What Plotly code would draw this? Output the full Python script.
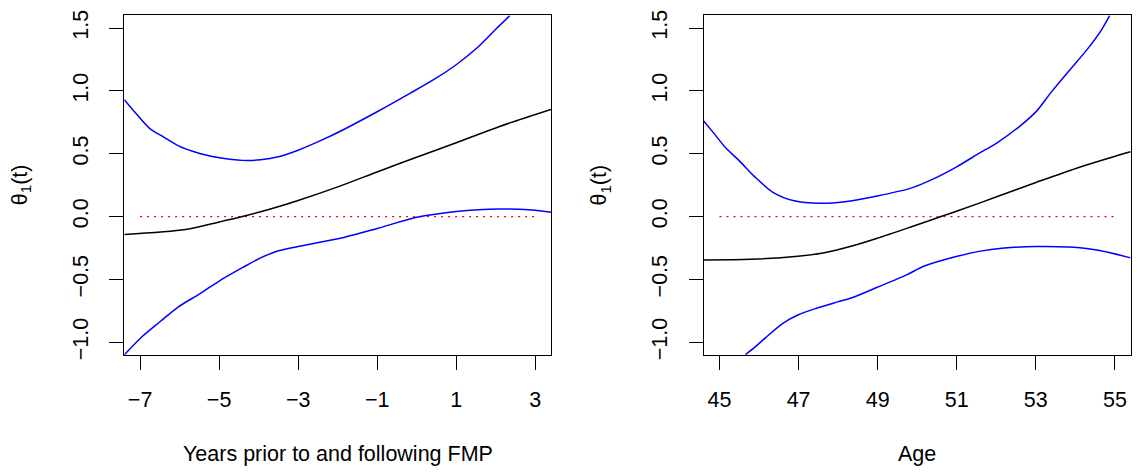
import plotly.graph_objects as go

# ---- Left panel: years relative to FMP ----
years_x = [-7.4, -7.12, -6.76, -6.40, -6.03, -5.49, -4.99, -4.41, -3.95, -3.50, -3.0,
           -2.42, -1.87, -1.0, -0.16, 0.48, 1.0, 1.56, 2.02, 2.36]
years_upper = [0.93, 0.826, 0.702, 0.632, 0.562, 0.502, 0.468, 0.447, 0.452, 0.476, 0.528,
               0.606, 0.689, 0.834, 0.982, 1.099, 1.208, 1.351, 1.496, 1.60]

years_est_x = [-7.4, -5.85, -4.99, -4.41, -3.68, -3.0, -1.96, -1.0, 0.03, 1.0, 2.1, 3.4]
years_est = [-0.142, -0.103, -0.043, 0.0, 0.062, 0.128, 0.24, 0.355, 0.476, 0.587, 0.717, 0.852]

years_lo_x = [-7.4, -6.94, -6.49, -6.03, -5.49, -4.99, -4.41, -3.95, -3.50, -3.0, -2.42,
              -1.87, -1.0, 0.03, 1.0, 1.56, 2.1, 2.83, 3.4]
years_lower = [-1.10, -0.952, -0.835, -0.718, -0.615, -0.511, -0.407, -0.329, -0.272, -0.238,
               -0.202, -0.168, -0.095, -0.004, 0.040, 0.055, 0.06, 0.055, 0.035]

years_ref_x = [-7, 3]
years_ticks = [-7, -5, -3, -1, 1, 3]

# ---- Right panel: age ----
age_up_x = [44.6, 44.87, 45.15, 45.52, 45.88, 46.34, 46.89, 47.53, 48.17, 48.99, 49.82,
            50.37, 51.01, 51.56, 52.01, 52.56, 53.02, 53.39, 53.84, 54.30, 54.67, 54.87]
age_upper = [0.761, 0.658, 0.549, 0.437, 0.320, 0.195, 0.125, 0.105, 0.118, 0.164, 0.224,
             0.294, 0.398, 0.502, 0.585, 0.710, 0.839, 0.99, 1.16, 1.33, 1.49, 1.60]

age_est_x = [44.6, 45.79, 46.98, 47.62, 48.35, 48.99, 49.91, 50.73, 51.01, 52.01, 53.02,
             54.03, 55.01, 55.4]
age_est = [-0.345, -0.34, -0.316, -0.290, -0.235, -0.173, -0.075, 0.014, 0.044, 0.157,
           0.273, 0.385, 0.48, 0.515]

age_lo_x = [45.65, 45.88, 46.16, 46.61, 46.98, 47.44, 47.99, 48.35, 48.99, 49.73, 50.18,
            51.01, 51.56, 52.20, 53.02, 53.84, 54.58, 55.4]
age_lower = [-1.10, -1.043, -0.965, -0.848, -0.783, -0.731, -0.679, -0.646, -0.563, -0.464,
             -0.394, -0.316, -0.277, -0.251, -0.238, -0.243, -0.269, -0.329]

age_ref_x = [45, 55]
age_ticks = [45, 47, 49, 51, 53, 55]

y_ticks = [-1.0, -0.5, 0.0, 0.5, 1.0, 1.5]

W, H = 1137, 476
FONT = "Liberation Sans, Arial, sans-serif"
FS = 21.5
BLUE = "#0000FF"

fig = go.Figure()


def add_panel(xa, ya, ux, uy, ex, ey, lx, ly, rx):
    fig.add_trace(go.Scatter(x=rx, y=[0, 0], mode="lines", xaxis=xa, yaxis=ya,
                             line=dict(color="#FF0000", width=1.3, dash="2px,5px"),
                             showlegend=False, hoverinfo="skip"))
    fig.add_trace(go.Scatter(x=ux, y=uy, mode="lines", xaxis=xa, yaxis=ya,
                             line=dict(color=BLUE, width=1.5, shape="spline", smoothing=0.8),
                             showlegend=False))
    fig.add_trace(go.Scatter(x=ex, y=ey, mode="lines", xaxis=xa, yaxis=ya,
                             line=dict(color="black", width=1.5, shape="spline", smoothing=0.8),
                             showlegend=False))
    fig.add_trace(go.Scatter(x=lx, y=ly, mode="lines", xaxis=xa, yaxis=ya,
                             line=dict(color=BLUE, width=1.5, shape="spline", smoothing=0.8),
                             showlegend=False))


add_panel("x", "y", years_x, years_upper, years_est_x, years_est, years_lo_x, years_lower, years_ref_x)
add_panel("x2", "y2", age_up_x, age_upper, age_est_x, age_est, age_lo_x, age_lower, age_ref_x)

L1, R1 = 124.3, 551.0
L2, R2 = 703.7, 1130.7
T, B = 10.7, 357.3

axis_common = dict(showline=True, mirror=True, linecolor="black", linewidth=1,
                   ticks="outside", ticklen=14, tickwidth=1, tickcolor="black",
                   showgrid=False, zeroline=False,
                   tickfont=dict(family=FONT, size=FS, color="black"))

fig.update_layout(
    width=W, height=H,
    margin=dict(l=0, r=0, t=0, b=0),
    paper_bgcolor="white", plot_bgcolor="white",
    font=dict(family=FONT, size=FS, color="black"),
    xaxis=dict(domain=[L1 / W, R1 / W], range=[-7.4, 3.4], tickvals=years_ticks,
               anchor="y", ticklabelstandoff=11, **axis_common),
    yaxis=dict(domain=[1 - B / H, 1 - T / H], range=[-1.1, 1.6], tickvals=y_ticks,
               tickformat=".1f", tickangle=-90, anchor="x", ticklabelstandoff=13, **axis_common),
    xaxis2=dict(domain=[L2 / W, R2 / W], range=[44.6, 55.4], tickvals=age_ticks,
                anchor="y2", ticklabelstandoff=11, **axis_common),
    yaxis2=dict(domain=[1 - B / H, 1 - T / H], range=[-1.1, 1.6], tickvals=y_ticks,
                tickformat=".1f", tickangle=-90, anchor="x2", ticklabelstandoff=13, **axis_common),
    annotations=[
        dict(text="Years prior to and following FMP", xref="paper", yref="paper",
             x=(L1 + R1) / 2 / W, y=1 - 459 / H, xanchor="center", yanchor="middle",
             showarrow=False, font=dict(family=FONT, size=FS)),
        dict(text="Age", xref="paper", yref="paper",
             x=(L2 + R2) / 2 / W, y=1 - 459 / H, xanchor="center", yanchor="middle",
             showarrow=False, font=dict(family=FONT, size=FS)),
        dict(text="θ<sub>1</sub>(t)", xref="paper", yref="paper", textangle=-90,
             x=21 / W, y=1 - (T + B) / 2 / H, xanchor="center", yanchor="middle",
             showarrow=False, font=dict(family=FONT, size=FS)),
        dict(text="θ<sub>1</sub>(t)", xref="paper", yref="paper", textangle=-90,
             x=(21 + L2 - L1) / W, y=1 - (T + B) / 2 / H, xanchor="center", yanchor="middle",
             showarrow=False, font=dict(family=FONT, size=FS)),
    ],
)

fig.write_html("out.html", config={"displayModeBar": False},
               post_script="document.body.style.margin='0px';")
